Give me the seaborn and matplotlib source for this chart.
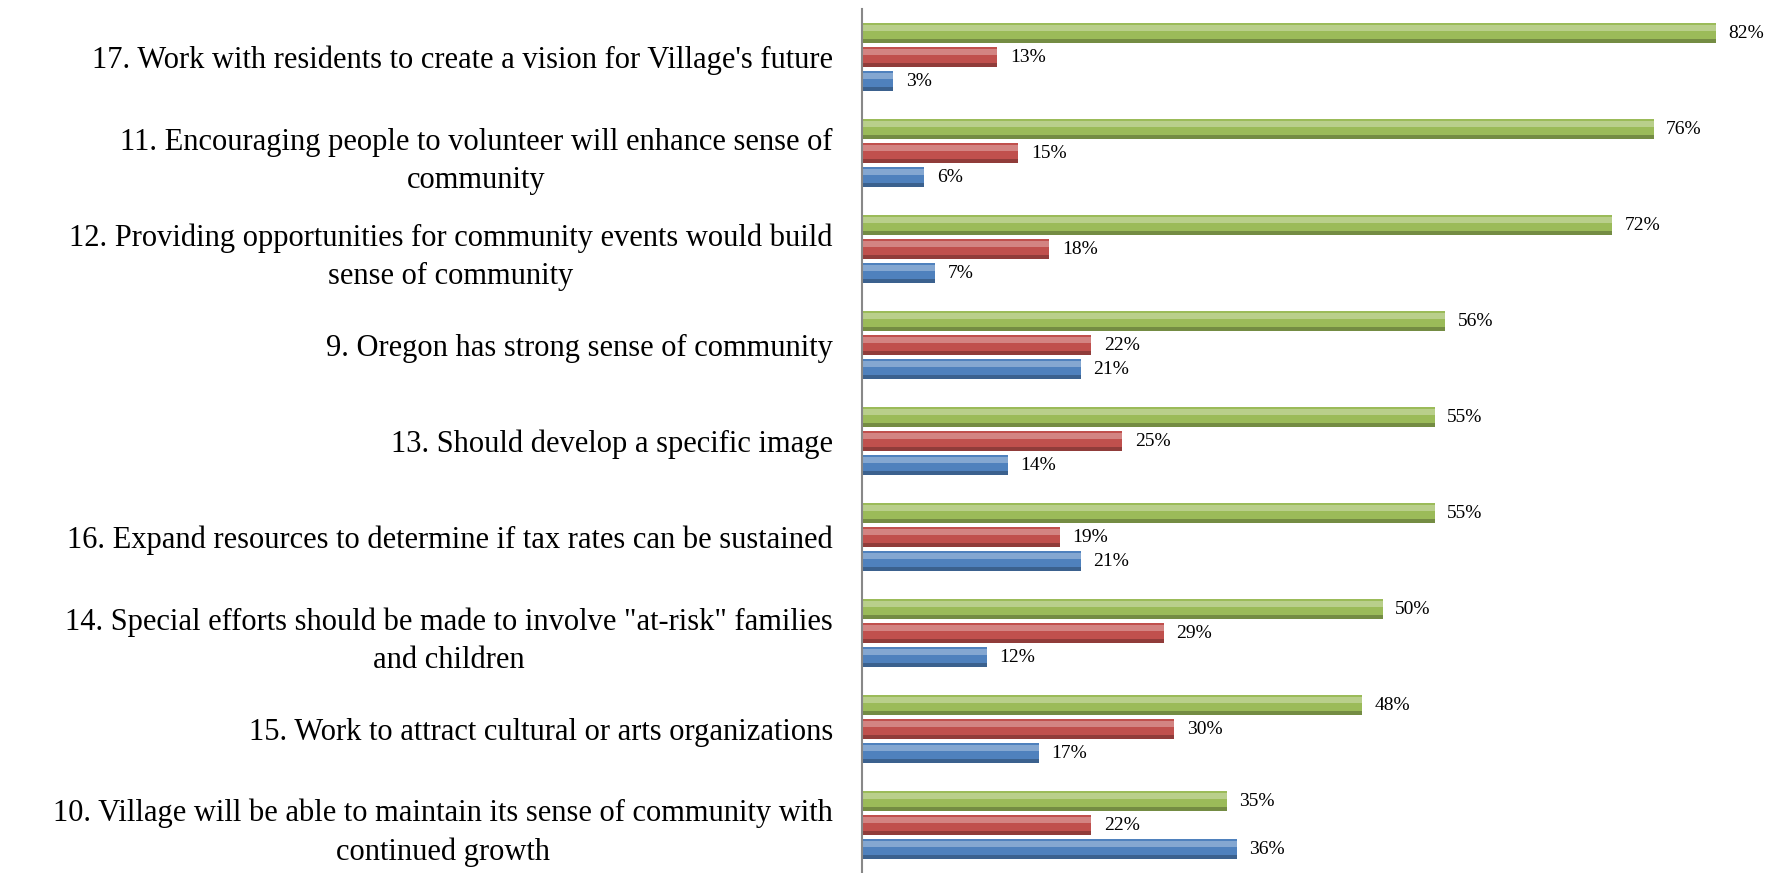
import pandas as pd
import seaborn as sns
import matplotlib.pyplot as plt
from matplotlib.patches import Rectangle
import matplotlib.colors as mcolors

# 設問ラベル
questions = [
    "17. Work with residents to create a vision for Village's future",
    "11. Encouraging people to volunteer will enhance sense of\ncommunity",
    "12. Providing opportunities for community events would build\nsense of community",
    "9. Oregon has strong sense of community",
    "13. Should develop a specific image",
    "16. Expand resources to determine if tax rates can be sustained",
    "14. Special efforts should be made to involve \"at-risk\" families\nand children",
    "15. Work to attract cultural or arts organizations",
    "10. Village will be able to maintain its sense of community with\ncontinued growth",
]
series = ["Agree", "Neutral", "Disagree"]
agree = [82, 76, 72, 56, 55, 55, 50, 48, 35]
neutral = [13, 15, 18, 22, 25, 19, 29, 30, 22]
disagree = [3, 6, 7, 21, 14, 21, 12, 17, 36]
colors = ["#9BBB59", "#C0504D", "#4F81BD"]

df = pd.concat([
    pd.DataFrame({"question": questions, "response": name, "pct": vals})
    for name, vals in zip(series, [agree, neutral, disagree])
])

sns.set_style("white", {"text.color": "black", "axes.labelcolor": "black",
                        "ytick.color": "black"})
plt.rcParams['font.family'] = ['Liberation Serif', 'DejaVu Serif']

fig = plt.figure(figsize=(17.89, 8.73), dpi=100)
ax = fig.add_axes([862 / 1789, 0, 1 - 862 / 1789, 1 - 9 / 873])

sns.barplot(data=df, y="question", x="pct", hue="response", hue_order=series,
            palette=colors, saturation=1, orient="y", width=0.75, gap=0.19,
            legend=False, edgecolor="none", ax=ax)

# 値ラベル
for c in ax.containers:
    ax.bar_label(c, fmt="%d%%", padding=9, fontsize=14, color="black")

# ベベル風の陰影
for p in list(ax.patches):
    x, y = p.get_x(), p.get_y()
    w, h = p.get_width(), p.get_height()
    base = mcolors.to_rgb(p.get_facecolor())
    light = tuple(min(1, v + (1 - v) * 0.3) for v in base)
    dark = tuple(v * 0.75 for v in base)
    z = p.get_zorder() + 0.1
    ax.add_patch(Rectangle((x, y + h * 0.08), w, h * 0.3, color=light, lw=0, zorder=z))
    ax.add_patch(Rectangle((x, y + h * 0.8), w, h * 0.2, color=dark, lw=0, zorder=z))

ax.set_xlim(0, 89)
ax.set_ylim(8.5, -0.5)
ax.set_xlabel("")
ax.set_ylabel("")
ax.set_xticks([])
ax.tick_params(axis="y", length=0, pad=21, labelsize=22, labelcolor="black")
for lab in ax.get_yticklabels():
    lab.set_multialignment("center")
    lab.set_linespacing(1.42)

for s in ["top", "right", "bottom"]:
    ax.spines[s].set_visible(False)
ax.spines["left"].set_color("#888888")
ax.spines["left"].set_linewidth(1.5)

fig.savefig("out.png", dpi=100)
